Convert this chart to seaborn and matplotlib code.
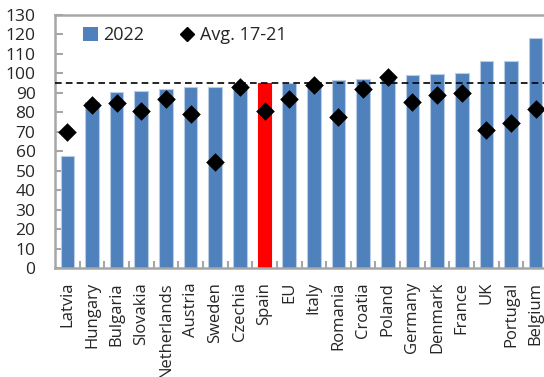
import matplotlib
matplotlib.use("Agg")
import matplotlib.pyplot as plt
from matplotlib.lines import Line2D
from matplotlib.patches import Patch
from matplotlib.ticker import FixedLocator
import numpy as np
import pandas as pd
import seaborn as sns

countries = ["Latvia", "Hungary", "Bulgaria", "Slovakia", "Netherlands", "Austria",
             "Sweden", "Czechia", "Spain", "EU", "Italy", "Romania", "Croatia",
             "Poland", "Germany", "Denmark", "France", "UK", "Portugal", "Belgium"]
value_2022 = [57.5, 85.5, 90.2, 91.0, 92.0, 93.0, 93.0, 94.5, 95.0, 95.0, 95.8,
              96.8, 97.2, 98.0, 99.0, 99.8, 100.2, 106.2, 106.6, 118.0]
avg_17_21 = [70.0, 84.0, 85.0, 80.8, 86.8, 79.0, 54.3, 92.8, 80.5, 86.6, 93.9,
             77.6, 92.0, 98.3, 85.5, 89.0, 89.8, 71.0, 74.6, 81.5]
eu_level = 95.0
highlight = "Spain"
y_ticks = list(range(0, 131, 10))

BLUE = "#4F81BD"
RED = "#FF0000"
GREY = "#A6A6A6"

df = pd.DataFrame({"country": countries, "v2022": value_2022, "avg": avg_17_21})
palette = {c: (RED if c == highlight else BLUE) for c in countries}

sns.set_style("white")
plt.rcParams["font.family"] = ["Open Sans", "DejaVu Sans"]

fig = plt.figure(figsize=(5.44, 3.77), dpi=100)
ax = fig.add_axes([55 / 544, (377 - 268) / 377, 493 / 544, 253 / 377])

sns.barplot(data=df, x="country", y="v2022", hue="country", palette=palette,
            width=0.55, legend=False, ax=ax, edgecolor="#B9CDE5", linewidth=0.8,
            saturation=1)
# Spain keeps a plain red outline
ax.patches[countries.index(highlight)].set_edgecolor(RED)

sns.scatterplot(data=df, x="country", y="avg", marker="D", s=90, color="black",
                edgecolor="black", linewidth=0, ax=ax, zorder=5)

ax.axhline(eu_level, color="black", linestyle=(0, (4, 2.5)), linewidth=1.2, zorder=4)

ax.set_xlim(-0.5, len(countries) - 0.5)
ax.set_ylim(0, 130)
ax.yaxis.set_major_locator(FixedLocator(y_ticks))
ax.set_xlabel("")
ax.set_ylabel("")

ax.set_xticks(range(len(countries)))
ax.set_xticklabels(countries, rotation=90, fontsize=12)
ax.xaxis.set_minor_locator(FixedLocator(np.arange(0.5, len(countries), 1.0)))
ax.tick_params(axis="x", which="major", length=0, pad=10)
ax.tick_params(axis="x", which="minor", direction="in", length=5, width=1.5,
               color=GREY, bottom=True)
ax.tick_params(axis="y", which="major", direction="in", length=6, width=1.5,
               color=GREY, left=True, labelsize=12.5, pad=14)

for side in ["left", "bottom", "top"]:
    ax.spines[side].set_color(GREY)
    ax.spines[side].set_linewidth(1.8)
ax.spines["right"].set_visible(False)

handles = [Patch(facecolor=BLUE, edgecolor="none"),
           Line2D([], [], marker="D", color="black", linestyle="none", markersize=7.5)]
ax.legend(handles, ["2022", "Avg. 17-21"], loc="upper left",
          bbox_to_anchor=(0.057, 0.955), ncol=2, frameon=False, fontsize=13,
          handlelength=0.8, handleheight=0.8, handletextpad=0.3,
          columnspacing=2.0, borderpad=0, borderaxespad=0)

fig.savefig("out.png", dpi=100)
